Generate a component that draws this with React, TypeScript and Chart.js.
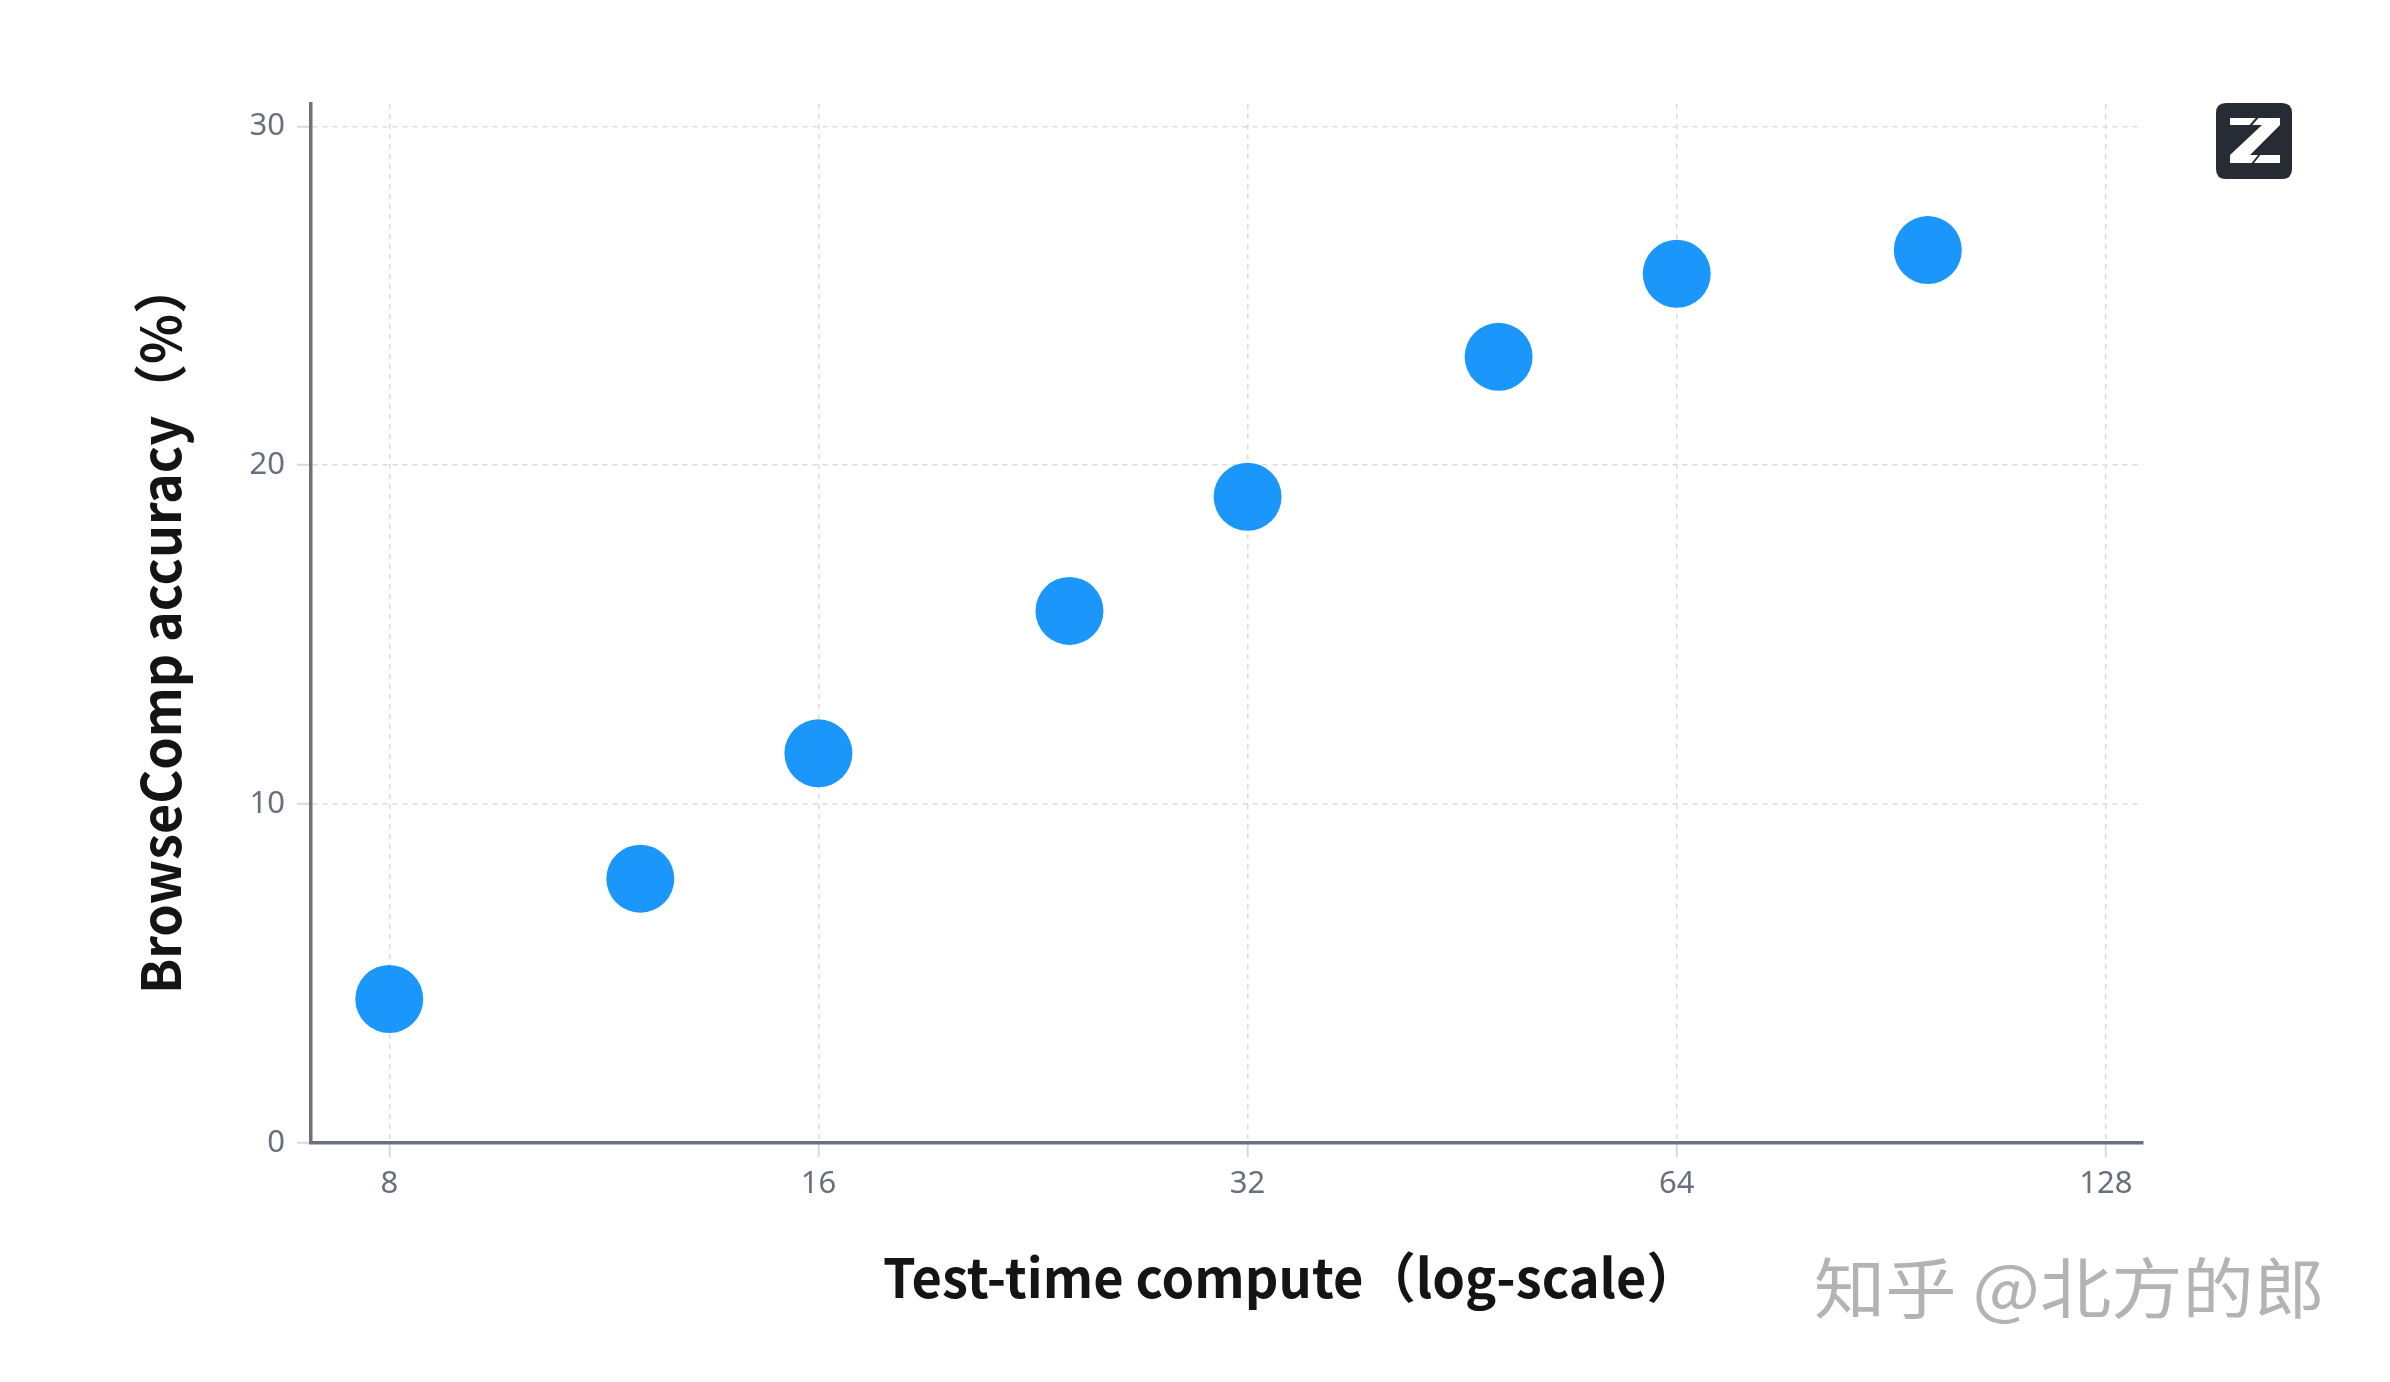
import React, { useEffect, useRef } from "react";
import { Chart, registerables } from "chart.js";

Chart.register(...registerables);

const computeValues = [8, 12, 16, 24, 32, 48, 64, 96];
const accuracyValues = [4.25, 7.8, 11.5, 15.7, 19.07, 23.2, 25.65, 26.35];
const xTickValues = [8, 16, 32, 64, 128];
const yTickValues = [0, 10, 20, 30];
const xTitle = "Test-time compute（log-scale）";
const yTitle = "BrowseComp accuracy（%）";
const watermark = "知乎 @北方的郎";

const W = 2390;
const H = 1382;
const AREA = { left: 311, top: 104, right: 2143, bottom: 1143 };

const TITLE_FONT = '600 54px "Noto Sans CJK SC", "Noto Sans", sans-serif';
const TICK_FONT = { family: '"Noto Sans", "Inter", sans-serif', size: 31 };

const overlayPlugin = {
  id: "overlay",
  afterDraw(chart: any) {
    const ctx = chart.ctx as CanvasRenderingContext2D;
    ctx.save();
    // axis titles
    ctx.fillStyle = "#141414";
    ctx.font = TITLE_FONT;
    ctx.textAlign = "center";
    ctx.textBaseline = "middle";
    ctx.save();
    ctx.translate(1291, 1277);
    ctx.scale(0.97, 1);
    ctx.fillText(xTitle, 0, 0);
    ctx.restore();
    ctx.save();
    ctx.translate(160, 628);
    ctx.rotate(-Math.PI / 2);
    ctx.scale(0.962, 1);
    ctx.fillText(yTitle, 0, 0);
    ctx.restore();

    // watermark
    ctx.save();
    ctx.font = '400 66px "Noto Sans CJK SC", sans-serif';
    ctx.textAlign = "left";
    ctx.translate(1814, 1288);
    ctx.scale(1.08, 1);
    ctx.fillStyle = "#b3b3b3";
    ctx.fillText(watermark, 0, 0);
    ctx.restore();

    // logo
    const lx = 2216, ly = 103, ls = 76, r = 10;
    ctx.fillStyle = "#272b33";
    ctx.beginPath();
    ctx.moveTo(lx + r, ly);
    ctx.lineTo(lx + ls - r, ly);
    ctx.quadraticCurveTo(lx + ls, ly, lx + ls, ly + r);
    ctx.lineTo(lx + ls, ly + ls - r);
    ctx.quadraticCurveTo(lx + ls, ly + ls, lx + ls - r, ly + ls);
    ctx.lineTo(lx + r, ly + ls);
    ctx.quadraticCurveTo(lx, ly + ls, lx, ly + ls - r);
    ctx.lineTo(lx, ly + r);
    ctx.quadraticCurveTo(lx, ly, lx + r, ly);
    ctx.closePath();
    ctx.fill();
    ctx.fillStyle = "#ffffff";
    ctx.beginPath();
    ctx.moveTo(2230, 118);
    ctx.lineTo(2280, 118);
    ctx.lineTo(2280, 125);
    ctx.lineTo(2250, 155);
    ctx.lineTo(2280, 155);
    ctx.lineTo(2280, 163);
    ctx.lineTo(2230, 163);
    ctx.lineTo(2230, 155);
    ctx.lineTo(2262, 125);
    ctx.lineTo(2230, 125);
    ctx.closePath();
    ctx.fill();
    ctx.strokeStyle = "#272b33";
    ctx.lineWidth = 2;
    ctx.beginPath();
    ctx.moveTo(2258, 117);
    ctx.lineTo(2250, 126);
    ctx.moveTo(2260, 154);
    ctx.lineTo(2252, 164);
    ctx.stroke();
    ctx.restore();
  },
};

export default function App() {
  const ref = useRef<HTMLCanvasElement | null>(null);

  useEffect(() => {
    if (!ref.current) return;
    const chart = new Chart(ref.current, {
      type: "scatter",
      data: {
        datasets: [
          {
            data: computeValues.map((x, i) => ({ x, y: accuracyValues[i] })),
            backgroundColor: "#1b97fb",
            borderColor: "#1b97fb",
            borderWidth: 0,
            pointRadius: 34,
            pointHoverRadius: 34,
          },
        ],
      },
      options: {
        responsive: false,
        animation: false,
        devicePixelRatio: 1,
        layout: {
          padding: { left: 0, top: AREA.top, right: W - AREA.right, bottom: 0 },
        },
        plugins: {
          legend: { display: false },
          tooltip: { enabled: false },
        },
        scales: {
          x: {
            type: "logarithmic",
            min: 7.05,
            max: 135.9,
            afterBuildTicks: (scale: any) => {
              scale.ticks = xTickValues.map((v) => ({ value: v }));
            },
            afterFit: (scale: any) => {
              scale.height = H - AREA.bottom;
            },
            ticks: {
              callback: (v: any) => String(v),
              color: "#69707d",
              font: TICK_FONT,
              padding: 9,
              maxRotation: 0,
              autoSkip: false,
            },
            grid: {
              color: "#dcdcdc",
              lineWidth: 1.5,
              tickLength: 14,
              tickColor: "#d8d8d8",
              tickWidth: 2,
              tickBorderDash: [],
            },
            border: { display: true, color: "#6b717d", width: 3.5, dash: [5, 5] } as any,
          },
          y: {
            type: "linear",
            min: 0,
            max: 30.66,
            afterBuildTicks: (scale: any) => {
              scale.ticks = yTickValues.map((v) => ({ value: v }));
            },
            afterFit: (scale: any) => {
              scale.width = AREA.left;
            },
            ticks: {
              callback: (v: any) => String(v),
              color: "#69707d",
              font: TICK_FONT,
              padding: 12,
            },
            grid: {
              color: "#dcdcdc",
              lineWidth: 1.5,
              tickLength: 14,
              tickColor: "#d8d8d8",
              tickWidth: 2,
              tickBorderDash: [],
            },
            border: { display: true, color: "#6b717d", width: 3.5, dash: [5, 5] } as any,
          },
        },
      },
      plugins: [overlayPlugin],
    });
    return () => chart.destroy();
  }, []);

  return (
    <div style={{ position: "absolute", left: 0, top: 0, width: W, height: H, background: "#fff" }}>
      <canvas ref={ref} width={W} height={H} style={{ display: "block" }} />
    </div>
  );
}
